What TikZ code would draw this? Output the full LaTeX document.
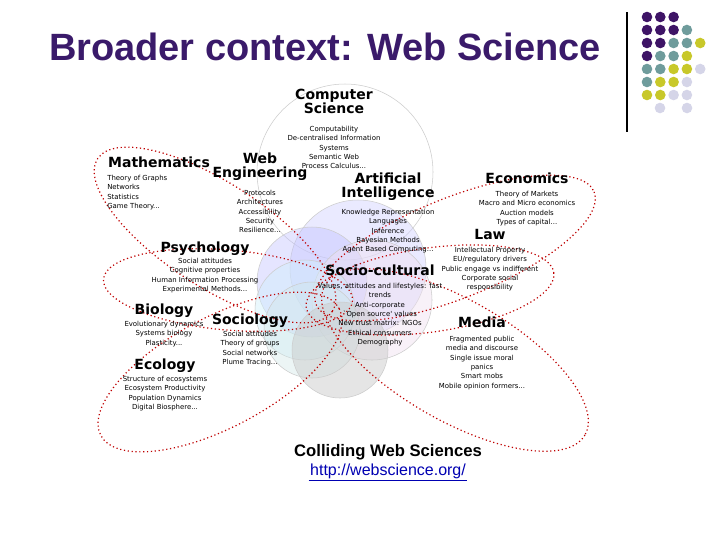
\documentclass[tikz,border=0pt]{standalone}
\usepackage{fontspec}
\setmainfont{Liberation Sans}
\newfontfamily\djfont{DejaVu Sans}
\begin{document}
\begin{tikzpicture}[x=0.75pt,y=-0.75pt,
  head/.style={font=\djfont\bfseries\fontsize{10.5}{10.5}\selectfont,align=center,anchor=north,inner sep=0pt},
  item/.style={font=\djfont\fontsize{5.2}{7}\selectfont,align=center,anchor=north,inner sep=0pt},
  loop/.style={draw=red!75!black,line width=0.9pt,dotted},
  disc/.style={draw=gray!40,line width=0.4pt}]
\useasboundingbox (0,0) rectangle (720,540);
\fill[white] (0,0) rectangle (720,540);
\definecolor{titlec}{HTML}{3A1A6A}
% title
\node[font=\bfseries\fontsize{28.5}{28.5}\selectfont,text=titlec,anchor=center] (title) at (325,47) {Broader context: Web Science};
\draw[line width=0.8pt] (627,12) -- (627,132);
\definecolor{dP}{HTML}{3E1466}\definecolor{dT}{HTML}{6F9C9C}\definecolor{dY}{HTML}{C8C82A}\definecolor{dL}{HTML}{D5D5E8}
\foreach \r/\row in {0/{P,P,P},1/{P,P,P,T},2/{P,P,T,T,Y},3/{P,T,T,Y},4/{T,T,Y,Y,L},5/{T,Y,Y,L},6/{Y,Y,L,L}}{
  \foreach \c [count=\i from 0] in \row { \fill[d\c] (647+13.3*\i,17+13*\r) circle (5.3); } }
\fill[dL] (660,108) circle (5.3); \fill[dL] (687,108) circle (5.3);
% circles
\draw[disc,fill=white] (345,172) circle (88);
\draw[disc,fill=blue!18,fill opacity=0.45] (358,268) circle (68);
\draw[disc,fill=blue!25,fill opacity=0.4] (312,282) circle (55);
\draw[disc,fill=violet!12,fill opacity=0.45] (372,300) circle (60);
\draw[disc,fill=cyan!18,fill opacity=0.45] (305,310) circle (50);
\draw[disc,fill=teal!18,fill opacity=0.4] (312,330) circle (48);
\draw[disc,fill=gray!40,fill opacity=0.5] (340,350) circle (48);
% loops
\draw[loop,shift={(215,235)},rotate=-33] (0,0) ellipse (140 and 52);
\draw[loop,shift={(455,248)},rotate=22] (0,0) ellipse (150 and 50);
\draw[loop,shift={(430,290)},rotate=8] (0,0) ellipse (125 and 42);
\draw[loop,shift={(455,360)},rotate=-30] (0,0) ellipse (150 and 60);
\draw[loop,shift={(228,290)},rotate=-5] (0,0) ellipse (125 and 40);
\draw[loop,shift={(220,372)},rotate=28] (0,0) ellipse (135 and 55);
% labels
\node[head] (cs) at (334,89) {Computer\\Science};
\node[item] (csi) at (334,126) {Computability\\De-centralised Information\\Systems\\Semantic Web\\Process Calculus...};
\node[head] (math) at (159,157) {Mathematics};
\node[item,align=left,anchor=north west] (mathi) at (107,175) {Theory of Graphs\\Networks\\Statistics\\Game Theory...};
\node[head] (we) at (260,153) {Web\\Engineering};
\node[item] (wei) at (260,190) {Protocols\\Architectures\\Accessibility\\Security\\Resilience...};
\node[head] (ai) at (388,173) {Artificial\\Intelligence};
\node[item] (aii) at (388,209) {Knowledge Representation\\Languages\\Inference\\Bayesian Methods\\Agent Based Computing...};
\node[head] (eco) at (527,173) {Economics};
\node[item] (ecoi) at (527,191) {Theory of Markets\\Macro and Micro economics\\Auction models\\Types of capital...};
\node[head] (law) at (490,229) {Law};
\node[item] (lawi) at (490,247) {Intellectual Property\\EU/regulatory drivers\\Public engage vs indifferent\\Corporate social\\responsibility};
\node[head] (psy) at (205,242) {Psychology};
\node[item] (psyi) at (205,258) {Social attitudes\\Cognitive properties\\Human Information Processing\\Experimental Methods...};
\node[head] (soc) at (380,265) {Socio-cultural};
\node[item] (soci) at (380,283) {Values, attitudes and lifestyles: fast\\trends\\Anti-corporate\\`Open source' values\\New trust matrix: NGOs\\Ethical consumers\\Demography};
\node[head] (bio) at (164,304) {Biology};
\node[item] (bioi) at (164,321) {Evolutionary dynamics\\Systems biology\\Plasticity...};
\node[head] (sgy) at (250,314) {Sociology};
\node[item] (sgyi) at (250,331) {Social attitudes\\Theory of groups\\Social networks\\Plume Tracing...};
\node[head] (med) at (482,317) {Media};
\node[item] (medi) at (482,336) {Fragmented public\\media and discourse\\Single issue moral\\panics\\Smart mobs\\Mobile opinion formers...};
\node[head] (ecl) at (165,359) {Ecology};
\node[item] (ecli) at (165,376) {Structure of ecosystems\\Ecosystem Productivity\\Population Dynamics\\Digital Biosphere...};
\node[font=\bfseries\fontsize{12.5}{12.5}\selectfont] (cws) at (388,452) {Colliding Web Sciences};
\node[font=\fontsize{12}{12}\selectfont,text=blue!70!black,inner sep=1pt] (url) at (388,471) {http://webscience.org/};
\draw[blue!70!black,line width=0.6pt] ([yshift=-0.5pt]url.south west) -- ([yshift=-0.5pt]url.south east);
\end{tikzpicture}
\end{document}
